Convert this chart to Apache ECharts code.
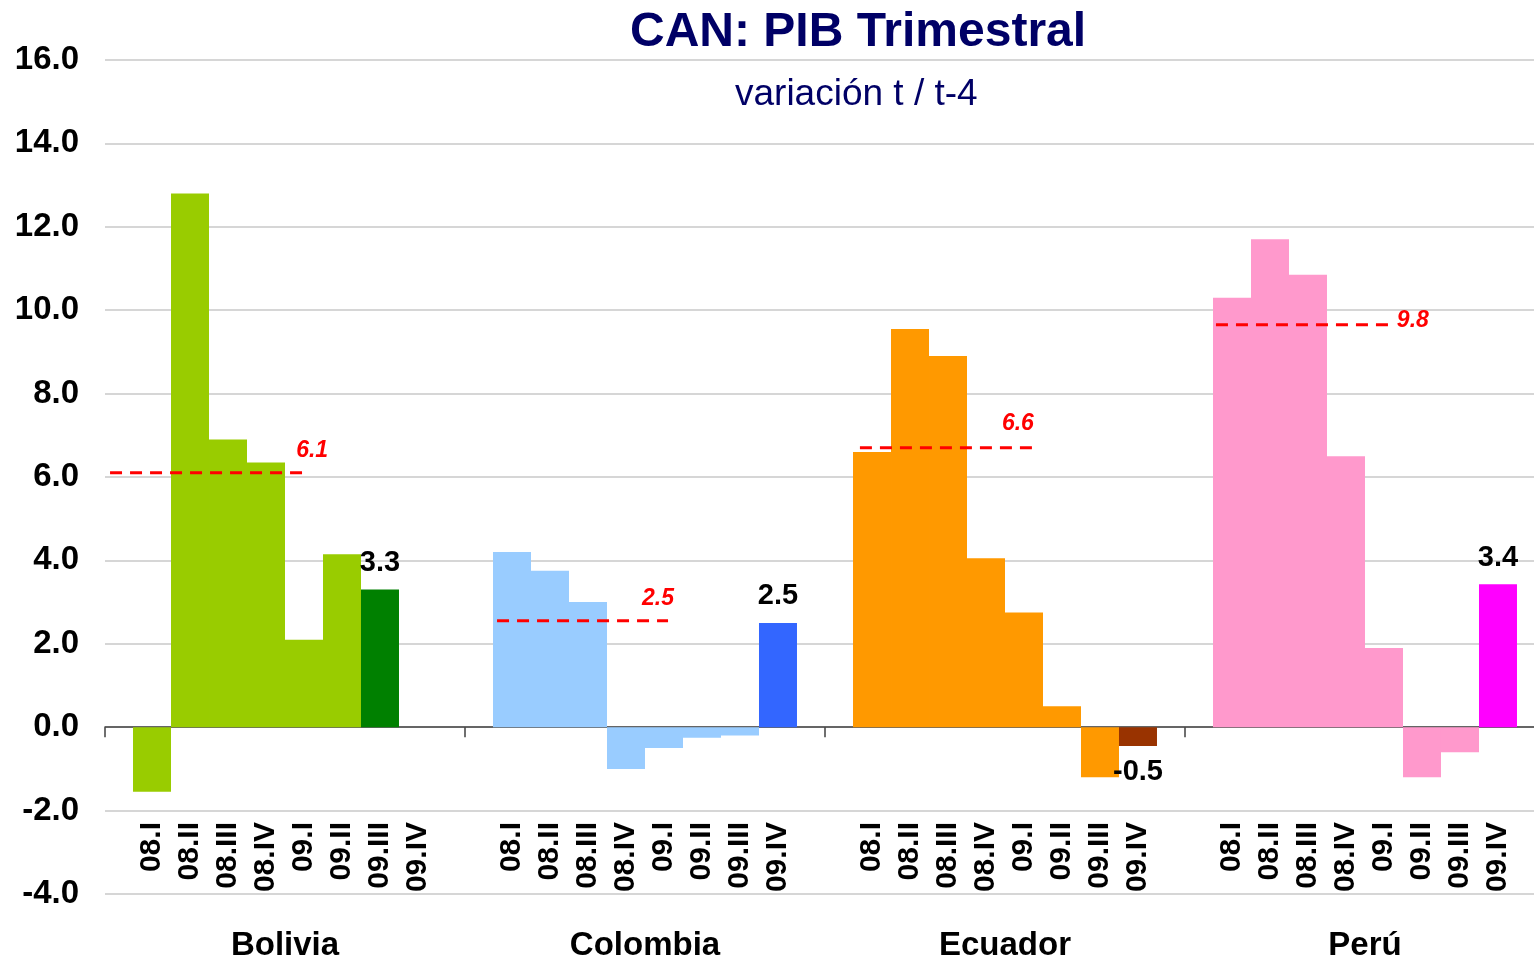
<!DOCTYPE html>
<html>
<head>
<meta charset="utf-8">
<title>CAN: PIB Trimestral</title>
<script src="https://cdn.jsdelivr.net/npm/echarts@6/dist/echarts.min.js"></script>
<style>
    html, body { margin: 0; padding: 0; background: #fff; overflow: hidden; }
    #chart { width: 1560px; height: 962px; }
</style>
</head>
<body>
<div id="chart"></div>
<script>
    // datos
    const countries = ['Bolivia', 'Colombia', 'Ecuador', 'Perú'];
    const quarters = ['08.I', '08.II', '08.III', '08.IV', '09.I', '09.II', '09.III', '09.IV'];
    const bolivia = [-1.55, 12.8, 6.9, 6.35, 2.1, 4.15, 3.3, null];
    const colombia = [4.2, 3.75, 3.0, -1.0, -0.5, -0.25, -0.2, 2.5];
    const ecuador = [6.6, 9.55, 8.9, 4.05, 2.75, 0.5, -1.2, -0.45];
    const peru = [10.3, 11.7, 10.85, 6.5, 1.9, -1.2, -0.6, 3.43];
    const averages = [6.1, 2.5, 6.6, 9.8];          // texto de la etiqueta
    const averageLevels = [6.1, 2.55, 6.7, 9.65];   // altura de la línea
    const yMin = -4, yMax = 16, yStep = 2;

    // estilos
    const FONT = '"Liberation Sans", Arial, sans-serif';
    const baseColors = ['#99CC00', '#99CCFF', '#FF9900', '#FF99CC'];
    const latestColors = ['#008000', '#3366FF', '#993300', '#FF00FF'];
    const gapPct = '15.56%';
    const quarterLabelLevel = -2.13;
    const avgExtent = [[0.014, 0.556], [0.089, 0.564], [0.097, 0.583], [0.086, 0.569]];
    const avgLabelOffset = [[-17, -22], [-34, -22], [-41, -24], [-1, -4]];

    const rows = [bolivia, colombia, ecuador, peru];
    const lastIdx = rows.map(r => {
        let k = r.length - 1;
        while (k > 0 && r[k] == null) k--;
        return k;
    });

    const barSeries = quarters.map((q, qi) => ({
        type: 'bar',
        name: q,
        xAxisIndex: 0,
        yAxisIndex: 0,
        barGap: '0%',
        barCategoryGap: gapPct,
        label: {
            show: false,
            formatter: p => Number(p.value).toFixed(1),
            fontFamily: FONT,
            fontSize: 29,
            fontWeight: 'bold',
            color: '#000',
            distance: 12
        },
        data: rows.map((r, ci) => {
            const v = r[qi];
            const latest = qi === lastIdx[ci];
            return {
                value: v,
                itemStyle: { color: latest ? latestColors[ci] : baseColors[ci] },
                label: { show: latest && v != null, position: v < 0 ? 'bottom' : 'top' }
            };
        })
    }));

    // etiquetas de trimestre bajo cada barra
    const quarterSeries = quarters.map(q => ({
        type: 'bar',
        xAxisIndex: 1,
        yAxisIndex: 0,
        barGap: '0%',
        barCategoryGap: gapPct,
        silent: true,
        itemStyle: { color: 'rgba(0,0,0,0)' },
        data: countries.map(() => quarterLabelLevel),
        label: {
            show: true,
            position: 'insideBottom',
            distance: 0,
            rotate: 90,
            align: 'right',
            verticalAlign: 'middle',
            offset: [-6, 0],
            formatter: q,
            fontFamily: FONT,
            fontSize: 30,
            fontWeight: 'bold',
            color: '#000'
        }
    }));

    // promedios (líneas rojas discontinuas)
    const avgSeries = averages.map((a, ci) => ({
        type: 'line',
        xAxisIndex: 2,
        yAxisIndex: 0,
        symbol: 'none',
        silent: true,
        lineStyle: { color: '#FF0000', width: 3, type: [12, 8] },
        data: [[ci + avgExtent[ci][0], averageLevels[ci]], [ci + avgExtent[ci][1], averageLevels[ci]]],
        endLabel: {
            show: true,
            formatter: a.toFixed(1),
            offset: avgLabelOffset[ci],
            color: '#FF0000',
            fontFamily: FONT,
            fontStyle: 'italic',
            fontWeight: 'bold',
            fontSize: 23
        }
    }));

    const chart = echarts.init(document.getElementById('chart'));
    const option = {
        animation: false,
        backgroundColor: '#fff',
        title: [
            {
                text: 'CAN: PIB Trimestral',
                left: 630, top: 9, padding: 0,
                textStyle: { fontFamily: FONT, fontSize: 48, fontWeight: 'bold', color: '#000066' }
            },
            {
                text: 'variación t / t-4',
                left: 735, top: 76, padding: 0,
                textStyle: { fontFamily: FONT, fontSize: 37, fontWeight: 'normal', color: '#000066' }
            }
        ],
        grid: { left: 105, right: 15, top: 60, bottom: 66 },
        xAxis: [
            {
                type: 'category',
                data: countries,
                position: 'bottom',
                axisLine: { onZero: true, lineStyle: { color: '#404040', width: 1.5 } },
                axisTick: { show: true, length: 10, lineStyle: { color: '#404040', width: 1.5 } },
                axisLabel: { show: false },
                splitLine: { show: false }
            },
            {
                type: 'category',
                data: countries,
                position: 'bottom',
                axisLine: { show: false, onZero: false },
                axisTick: { show: false },
                axisLabel: {
                    show: true,
                    margin: 35,
                    fontFamily: FONT,
                    fontSize: 33,
                    fontWeight: 'bold',
                    color: '#000'
                },
                splitLine: { show: false }
            },
            {
                type: 'value',
                min: 0,
                max: countries.length,
                position: 'top',
                show: false
            }
        ],
        yAxis: {
            type: 'value',
            min: yMin,
            max: yMax,
            interval: yStep,
            axisLine: { show: false },
            axisTick: { show: false },
            axisLabel: {
                formatter: v => v.toFixed(1),
                margin: 26,
                fontFamily: FONT,
                fontSize: 33,
                fontWeight: 'bold',
                color: '#000'
            },
            splitLine: { lineStyle: { color: '#c8c8c8', width: 1.5 } }
        },
        series: [...barSeries, ...quarterSeries, ...avgSeries]
    };
    chart.setOption(option);
</script>
</body>
</html>
